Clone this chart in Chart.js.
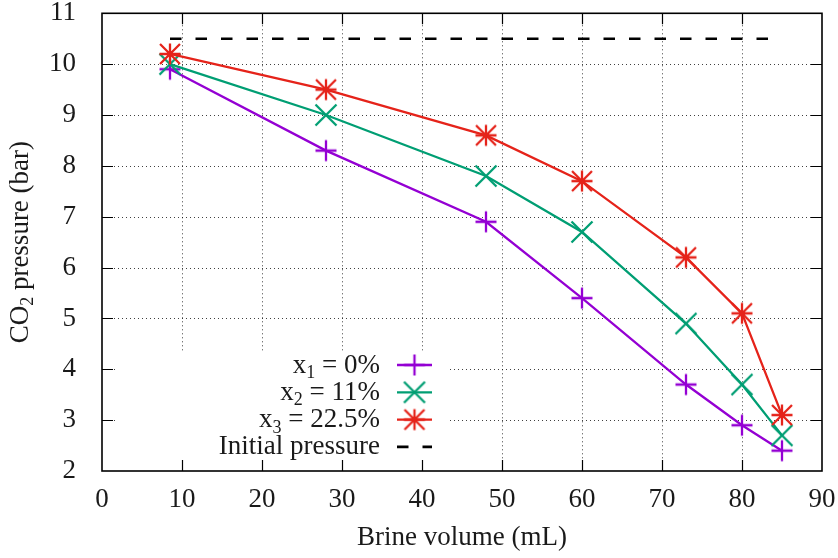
<!DOCTYPE html>
<html><head><meta charset="utf-8">
<script src="https://cdn.jsdelivr.net/npm/chart.js@4.4.0/dist/chart.umd.min.js"></script>
<style>html,body{margin:0;padding:0;background:#fff;}</style>
</head><body>
<canvas id="c" width="838" height="558" style="width:838px;height:558px;display:block"></canvas>
<script>
// ---- data ----
const brineVolume = [8.5, 28, 48, 60, 73, 80, 85];
const pressureX1 = [9.9, 8.3, 6.9, 5.4, 3.7, 2.9, 2.4];
const pressureX2 = [10.0, 9.0, 7.8, 6.7, 4.9, 3.7, 2.7];
const pressureX3 = [10.2, 9.5, 8.6, 7.7, 6.2, 5.1, 3.1];
const initialVolume = [8.5, 85];
const initialPressure = [10.5, 10.5];
const seriesLabels = ['x₁ = 0%', 'x₂ = 11%', 'x₃ = 22.5%', 'Initial pressure'];
const xTickValues = [0, 10, 20, 30, 40, 50, 60, 70, 80, 90];
const yTickValues = [2, 3, 4, 5, 6, 7, 8, 9, 10, 11];
const xTitle = 'Brine volume (mL)';
const yTitle = 'CO₂ pressure (bar)';

// ---- styles ----
const FONT = '"Liberation Serif", "Times New Roman", serif';
const FSIZE = 27;
const TEXT = '#1a1a1a';
const colors = ['#9400d3', '#009e73', '#e5231a'];
const LW = 2.3;

function makeMarker(kind, color) {
  const s = 30, c = s / 2, r = 10.5;
  const cv = document.createElement('canvas');
  cv.width = s; cv.height = s;
  const g = cv.getContext('2d');
  g.strokeStyle = color; g.lineWidth = LW; g.lineCap = 'butt';
  g.beginPath();
  if (kind === 'plus' || kind === 'star') {
    g.moveTo(c - r, c); g.lineTo(c + r, c);
    g.moveTo(c, c - r); g.lineTo(c, c + r);
  }
  if (kind === 'x' || kind === 'star') {
    const d = kind === 'star' ? r * 0.95 : r;
    g.moveTo(c - d, c - d); g.lineTo(c + d, c + d);
    g.moveTo(c - d, c + d); g.lineTo(c + d, c - d);
  }
  g.stroke();
  return cv;
}
const markers = [makeMarker('plus', colors[0]), makeMarker('x', colors[1]), makeMarker('star', colors[2])];

const SUBS = {'₀':'0','₁':'1','₂':'2','₃':'3','₄':'4','₅':'5','₆':'6','₇':'7','₈':'8','₉':'9'};
function pieces(str) {
  const out = [];
  for (const ch of str) {
    const isSub = SUBS[ch] !== undefined;
    const t = isSub ? SUBS[ch] : ch;
    if (out.length && out[out.length - 1].sub === isSub) out[out.length - 1].t += t;
    else out.push({t, sub: isSub});
  }
  return out;
}
function fontFor(sub) { return (sub ? Math.round(FSIZE * 0.68) : FSIZE) + 'px ' + FONT; }
function richWidth(ctx, str) {
  let w = 0;
  for (const p of pieces(str)) { ctx.font = fontFor(p.sub); w += ctx.measureText(p.t).width; }
  return w;
}
function drawRich(ctx, str, x, y, align) {
  const w = richWidth(ctx, str);
  let cx = align === 'right' ? x - w : align === 'center' ? x - w / 2 : x;
  ctx.textAlign = 'left'; ctx.textBaseline = 'alphabetic'; ctx.fillStyle = TEXT;
  for (const p of pieces(str)) {
    ctx.font = fontFor(p.sub);
    ctx.fillText(p.t, cx, y + (p.sub ? FSIZE * 0.2 : 0));
    cx += ctx.measureText(p.t).width;
  }
}

function pts(xs, ys) { return xs.map((x, i) => ({x, y: ys[i]})); }

const gnuplotFrame = {
  id: 'gnuplotFrame',
  beforeDatasetsDraw(chart) {
    const {ctx, chartArea: a, scales: {x, y}} = chart;
    ctx.save();
    // dotted grid
    ctx.strokeStyle = 'rgba(0,0,0,0.75)'; ctx.lineWidth = 1; ctx.setLineDash([1, 3]);
    ctx.beginPath();
    xTickValues.slice(1, -1).forEach(v => {
      const px = Math.round(x.getPixelForValue(v)) + 0.5;
      ctx.moveTo(px, a.top); ctx.lineTo(px, a.bottom);
    });
    yTickValues.slice(1, -1).forEach(v => {
      const py = Math.round(y.getPixelForValue(v)) + 0.5;
      ctx.moveTo(a.left, py); ctx.lineTo(a.right, py);
    });
    ctx.stroke();
    ctx.setLineDash([]);
    // opaque key box
    ctx.fillStyle = '#fff';
    ctx.fillRect(a.left + 16, a.bottom - 119, 330, 107);
    // tick marks (inward, mirrored)
    const tl = 11;
    ctx.strokeStyle = '#000'; ctx.lineWidth = 1.2;
    ctx.beginPath();
    xTickValues.slice(1, -1).forEach(v => {
      const px = Math.round(x.getPixelForValue(v)) + 0.5;
      ctx.moveTo(px, a.bottom); ctx.lineTo(px, a.bottom - tl);
      ctx.moveTo(px, a.top); ctx.lineTo(px, a.top + tl);
    });
    yTickValues.slice(1, -1).forEach(v => {
      const py = Math.round(y.getPixelForValue(v)) + 0.5;
      ctx.moveTo(a.left, py); ctx.lineTo(a.left + tl, py);
      ctx.moveTo(a.right, py); ctx.lineTo(a.right - tl, py);
    });
    ctx.stroke();
    // border
    ctx.lineWidth = 1.6;
    ctx.strokeRect(a.left, a.top, a.right - a.left, a.bottom - a.top);
    ctx.restore();
  },
  afterDatasetsDraw(chart) {
    const {ctx, chartArea: a} = chart;
    ctx.save();
    const textRight = a.left + 278;
    const sx0 = a.left + 295, sx1 = a.left + 330;
    const rowY0 = a.bottom - 106, rowStep = 27.3;
    chart.data.datasets.forEach((ds, i) => {
      const cy = rowY0 + i * rowStep;
      drawRich(ctx, ds.label, textRight, cy + 7.5, 'right');
      ctx.strokeStyle = ds.borderColor; ctx.lineWidth = ds.borderWidth;
      ctx.setLineDash(ds.borderDash || []);
      ctx.beginPath(); ctx.moveTo(sx0, cy); ctx.lineTo(sx1, cy); ctx.stroke();
      ctx.setLineDash([]);
      if (ds.pointStyle && typeof ds.pointStyle === 'object') {
        const m = ds.pointStyle;
        ctx.drawImage(m, (sx0 + sx1) / 2 - m.width / 2, cy - m.height / 2);
      }
    });
    ctx.restore();
  },
  afterDraw(chart) {
    const {ctx, chartArea: a} = chart;
    ctx.save();
    drawRich(ctx, xTitle, (a.left + a.right) / 2, 545, 'center');
    ctx.translate(28, (a.top + a.bottom) / 2);
    ctx.rotate(-Math.PI / 2);
    drawRich(ctx, yTitle, 0, 0, 'center');
    ctx.restore();
  }
};

function noPad(s) { s.paddingTop = 0; s.paddingBottom = 0; s.paddingLeft = 0; s.paddingRight = 0; }

new Chart(document.getElementById('c'), {
  type: 'line',
  data: {
    datasets: [
      {label: seriesLabels[0], data: pts(brineVolume, pressureX1), borderColor: colors[0], borderWidth: LW,
       pointStyle: markers[0], pointRadius: 11, order: 3},
      {label: seriesLabels[1], data: pts(brineVolume, pressureX2), borderColor: colors[1], borderWidth: LW,
       pointStyle: markers[1], pointRadius: 11, order: 2},
      {label: seriesLabels[2], data: pts(brineVolume, pressureX3), borderColor: colors[2], borderWidth: LW,
       pointStyle: markers[2], pointRadius: 11, order: 1},
      {label: seriesLabels[3], data: pts(initialVolume, initialPressure), borderColor: '#000', borderWidth: 2.6,
       borderDash: [11.5, 14], pointRadius: 0, order: 4}
    ]
  },
  options: {
    responsive: false,
    animation: false,
    devicePixelRatio: 1,
    layout: {padding: {top: 11, right: 16, left: 0, bottom: 0}},
    plugins: {legend: {display: false}, tooltip: {enabled: false}},
    elements: {line: {tension: 0, fill: false}},
    scales: {
      x: {
        type: 'linear', min: 0, max: 90,
        afterBuildTicks: s => { s.ticks = xTickValues.map(v => ({value: v})); },
        afterFit: s => { s.height = 87; noPad(s); },
        grid: {display: false}, border: {display: false},
        ticks: {font: {family: FONT, size: FSIZE}, color: TEXT, padding: 5, maxRotation: 0, autoSkip: false}
      },
      y: {
        type: 'linear', min: 2, max: 11,
        afterBuildTicks: s => { s.ticks = yTickValues.map(v => ({value: v})); },
        afterFit: s => { s.width = 102; noPad(s); },
        grid: {display: false}, border: {display: false},
        ticks: {font: {family: FONT, size: FSIZE}, color: TEXT, padding: 18, autoSkip: false}
      }
    }
  },
  plugins: [gnuplotFrame]
});
</script>
</body></html>
